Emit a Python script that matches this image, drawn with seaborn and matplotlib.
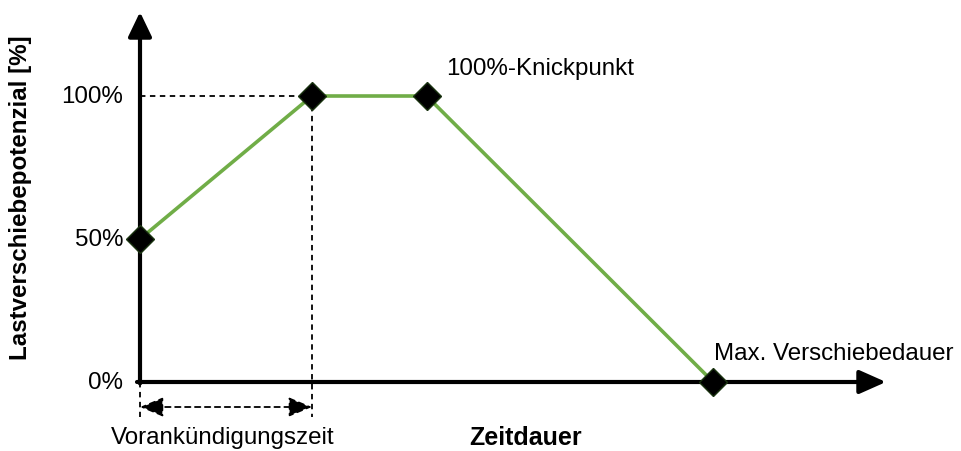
import matplotlib
matplotlib.use("Agg")
import matplotlib.pyplot as plt
import seaborn as sns
import pandas as pd

# data
zeit = [0.0, 1.2, 2.0, 4.0]
potenzial = [50, 100, 100, 0]
ytick_vals = [0, 50, 100]
ytick_labels = ["0%", "50%", "100%"]

sns.set_theme(style="white")
plt.rcParams['font.family'] = ['Liberation Sans', 'DejaVu Sans']
plt.rcParams['text.color'] = 'black'

W, H = 961, 452
fig = plt.figure(figsize=(W / 100, H / 100), dpi=100)
ax = fig.add_axes([0, 0, 1, 1])

# pixel mapping helpers (layout)
X0, XS = 140, 143.3
Y0, YS = 383, 2.86
def px(p):
    return (p - X0) / XS
def py(p):
    return (Y0 - p) / YS

ax.set_xlim(px(0), px(W))
ax.set_ylim(py(H), py(0))
ax.axis("off")

green = "#70AD47"

# dashed helper lines
ax.plot([0, zeit[1]], [100, 100], color="black", lw=1.3, ls=(0, (3, 2.5)), zorder=1)
ax.plot([zeit[1], zeit[1]], [100, py(418)], color="black", lw=1.3, ls=(0, (3, 2.5)), zorder=1)
ax.plot([0, 0], [0, py(418)], color="black", lw=1.3, ls=(0, (3, 2.5)), zorder=1)

# double arrow (Vorankündigungszeit)
ax.annotate("", xy=(0, py(408)), xytext=(zeit[1], py(408)),
            arrowprops=dict(arrowstyle="<|-|>,head_length=1.2,head_width=0.5",
                            color="black", lw=1.3, ls=(0, (3, 2.5)),
                            shrinkA=0, shrinkB=0))

# axes arrows
ax.annotate("", xy=(px(886), 0), xytext=(px(137), 0),
            arrowprops=dict(arrowstyle="-|>,head_length=1.35,head_width=0.6",
                            color="black", lw=3, shrinkA=0, shrinkB=0), zorder=2)
ax.annotate("", xy=(0, py(13)), xytext=(0, py(384.5)),
            arrowprops=dict(arrowstyle="-|>,head_length=1.25,head_width=0.6",
                            color="black", lw=3, shrinkA=0, shrinkB=0), zorder=2)

# main line
df = pd.DataFrame({"Zeitdauer": zeit, "Potenzial": potenzial})
sns.lineplot(data=df, x="Zeitdauer", y="Potenzial", ax=ax, color=green, lw=2.6,
             marker="D", markersize=14.5, markerfacecolor="black",
             markeredgecolor="#1a3310", markeredgewidth=1, zorder=5)

fs = 17.4
for v, lab in zip(ytick_vals, ytick_labels):
    ax.text(px(123), v, lab, ha="right", va="center", fontsize=fs)

ax.text(px(21), py(198), "Lastverschiebepotenzial [%]", rotation=90,
        ha="center", va="center", fontsize=fs, fontweight="bold")
ax.text(px(526), py(438), "Zeitdauer", ha="center", va="center",
        fontsize=fs + 0.6, fontweight="bold")
ax.text(px(223), py(438), "Vorankündigungszeit", ha="center", va="center",
        fontsize=fs)
ax.text(px(714), py(354), "Max. Verschiebedauer", ha="left", va="center",
        fontsize=fs)
ax.text(px(446), py(69), "100%-Knickpunkt", ha="left", va="center",
        fontsize=fs)

fig.savefig("out.png", dpi=100)
